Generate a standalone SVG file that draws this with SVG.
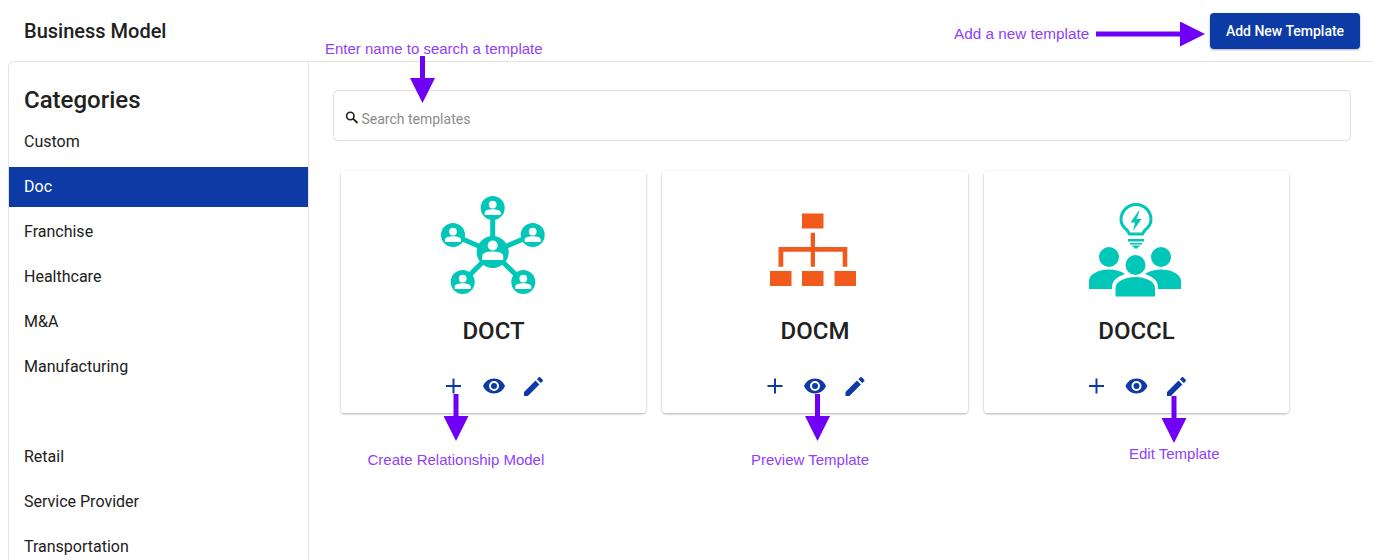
<svg xmlns="http://www.w3.org/2000/svg" width="1373" height="560" viewBox="0 0 1373 560">
<style>
text{font-family:Roboto,"Liberation Sans",sans-serif;fill:#212121}
.cat{font-size:16px}
.note{font-family:"Liberation Sans",Arial,sans-serif;font-size:15px;fill:#9140fa}
.title{font-size:24px;font-weight:500;text-anchor:middle}
.card{fill:#fff;filter:url(#sh)}
.teal{fill:#00c7b7}
.w{fill:#fff}
.org{fill:#f1591d}
.blue{fill:#0e3aa6}
.arrow{stroke:#6f00f5;stroke-width:5;fill:none;marker-end:url(#ah)}
</style>
<defs>
<filter id="sh" x="-5%" y="-5%" width="110%" height="110%"><feDropShadow dx="0" dy="1" stdDeviation="1.2" flood-color="#000" flood-opacity=".32"/></filter>
<marker id="ah" markerUnits="userSpaceOnUse" markerWidth="25" markerHeight="25" refX="1" refY="12.5" orient="auto"><path d="M0 0L25 12.5L0 25Z" fill="#6f00f5"/></marker>
<g id="person"><circle cx="0" cy="-3.400" r="3.900" class="w"/><path d="M-8 7V4.600C-8 2-3.600 1.200 0 1.200S8 2 8 4.600V7Z" class="w"/></g>
<g id="person-big"><circle cx="0" cy="-6" r="5" class="w"/><path d="M-10.500 8.500V4.500C-10.500 1.200-5 0 0 0S10.500 1.200 10.500 4.500V8.500Z" class="w"/></g>
<g id="plus"><path d="M-7.500-1H-1V-7.500H1V-1H7.500V1H1V7.500H-1V1H-7.500Z" class="blue"/></g>
<g id="eye"><path d="M0-7.500C-5-7.500-9.300-4.400-11-0-9.300 4.400-5 7.500 0 7.500S9.300 4.400 11 0C9.300-4.400 5-7.500 0-7.500ZM0 5A5 5 0 1 1 0-5 5 5 0 1 1 0 5ZM0-3A3 3 0 1 0 0 3 3 3 0 1 0 0-3Z" class="blue" fill-rule="evenodd"/></g>
<g id="pencil"><path d="M-10 6.100V10H-6.100L5.400-1.500 1.500-5.400ZM8.700-4.800C9.100-5.200 9.100-5.800 8.700-6.200L6.200-8.700C5.800-9.100 5.200-9.100 4.800-8.700L2.900-6.800 6.800-2.900Z" class="blue"/></g>
</defs>
<rect width="1373" height="560" fill="#fff"/>
<g id="header">
<text x="24" y="38" font-size="20" font-weight="500">Business Model</text>
<path d="M308.500 61.500H1373" stroke="#e3e3e3" fill="none"/>
</g>
<g id="add-button">
<rect x="1210" y="13" width="150" height="36" rx="4" class="blue" filter="url(#sh)"/>
<text x="1285" y="36" font-size="14" font-weight="500" text-anchor="middle" style="fill:#fff">Add New Template</text>
</g>
<g id="sidebar">
<path d="M308.500 560V61.500H15Q8.500 61.500 8.500 68V560" fill="#fff" stroke="#e3e3e3"/>
<text x="24" y="108" font-size="24" font-weight="500">Categories</text>
<rect x="9" y="167" width="299" height="40" class="blue"/>
<text class="cat" x="24" y="147">Custom</text>
<text class="cat" x="24" y="192" style="fill:#fff">Doc</text>
<text class="cat" x="24" y="237">Franchise</text>
<text class="cat" x="24" y="282">Healthcare</text>
<text class="cat" x="24" y="327">M&amp;A</text>
<text class="cat" x="24" y="372">Manufacturing</text>
<text class="cat" x="24" y="462">Retail</text>
<text class="cat" x="24" y="507">Service Provider</text>
<text class="cat" x="24" y="552">Transportation</text>
</g>
<g id="search">
<rect x="333.500" y="90.500" width="1017" height="50" rx="4" fill="#fff" stroke="#dedede"/>
<circle cx="350.300" cy="116" r="3.700" fill="none" stroke="#212121" stroke-width="1.600"/>
<path d="M353 118.700L357.500 123" stroke="#212121" stroke-width="1.800" fill="none"/>
<text x="361.500" y="124" font-size="14" style="fill:#8c8c8c">Search templates</text>
</g>
<g id="card-doct">
<rect class="card" x="341" y="171" width="305" height="242" rx="4"/>
<g id="icon-doct">
<path d="M492.700 252V208M492.700 252L453 235M492.700 252L532.700 235M492.700 252L462.700 282M492.700 252L523.300 282" stroke="#00c7b7" stroke-width="5" fill="none"/>
<g class="teal"><circle cx="492.700" cy="252" r="16"/><circle cx="492.700" cy="208" r="12"/><circle cx="453" cy="235" r="12"/><circle cx="532.700" cy="235" r="12"/><circle cx="462.700" cy="282" r="12"/><circle cx="523.300" cy="282" r="12"/></g>
<use href="#person-big" x="492.700" y="251.500"/><use href="#person" x="492.700" y="208"/><use href="#person" x="453" y="235"/><use href="#person" x="532.700" y="235"/><use href="#person" x="462.700" y="282"/><use href="#person" x="523.300" y="282"/>
</g>
<text class="title" x="493.500" y="339">DOCT</text>
<use href="#plus" x="453.500" y="386"/><use href="#eye" x="494" y="386"/><use href="#pencil" x="534" y="386"/>
</g>
<g id="card-docm">
<rect class="card" x="662" y="171" width="306" height="242" rx="4"/>
<g id="icon-docm" class="org">
<rect x="802" y="213.500" width="21.500" height="15"/>
<path d="M810.700 232.700H815V247H847.300V266.700H842.700V251.700H815V266.700H810.700V251.700H783.300V266.700H778.500V247H810.700Z"/>
<rect x="770" y="271" width="21.500" height="15"/><rect x="802" y="271" width="21.500" height="15"/><rect x="834.500" y="271" width="21.500" height="15"/>
</g>
<text class="title" x="815" y="339">DOCM</text>
<use href="#plus" x="775" y="386"/><use href="#eye" x="815" y="386"/><use href="#pencil" x="855.500" y="386"/>
</g>
<g id="card-doccl">
<rect class="card" x="984" y="171" width="305" height="242" rx="4"/>
<g id="icon-doccl">
<path d="M1129.500 234H1142.500L1145 230C1149 227 1151 223.500 1151 219.500A15 15 0 1 0 1121 219.500C1121 223.500 1123 227 1127 230Z" fill="#fff" stroke="#00c7b7" stroke-width="3"/>
<path d="M1138.500 211L1130.500 222.500H1135L1133 231L1141.500 219H1136.500L1139.500 211Z" class="teal"/>
<path d="M1128 239H1144V241.500H1128ZM1130 243H1142V244.500H1130ZM1131.500 245.500H1140.500L1136 249Z" class="teal"/>
<circle cx="1109" cy="257" r="10" class="teal"/><circle cx="1161" cy="257" r="10" class="teal"/>
<path d="M1089 289V281C1089 274 1099 269.500 1109 269.500C1115 269.500 1121 271 1125 274C1117 277 1112 280 1112 288V289ZM1181 289V281C1181 274 1171 269.500 1161 269.500C1155 269.500 1149 271 1145 274C1153 277 1158 280 1158 288V289Z" class="teal"/>
<circle cx="1135.500" cy="265" r="10" class="teal"/>
<path d="M1115.500 296.500V288C1115.500 281 1126 277 1135.500 277S1155 281 1155 288V296.500Z" class="teal"/>
</g>
<text class="title" x="1136.500" y="339">DOCCL</text>
<use href="#plus" x="1096.500" y="386"/><use href="#eye" x="1136.500" y="386"/><use href="#pencil" x="1177" y="386"/>
</g>
<g id="connectors">
<path class="arrow" d="M422.500 56V79"/>
<path class="arrow" d="M1096 34H1181"/>
<path class="arrow" d="M456 394V417"/>
<path class="arrow" d="M817.500 394V417"/>
<path class="arrow" d="M1174 396V419"/>
</g>
<g id="labels">
<text class="note" x="325" y="53.500">Enter name to search a template</text>
<text class="note" x="954" y="38.500" style="font-size:15.300px">Add a new template</text>
<text class="note" x="367.500" y="464.500">Create Relationship Model</text>
<text class="note" x="751" y="464.500">Preview Template</text>
<text class="note" x="1129" y="458.500">Edit Template</text>
</g>
</svg>
